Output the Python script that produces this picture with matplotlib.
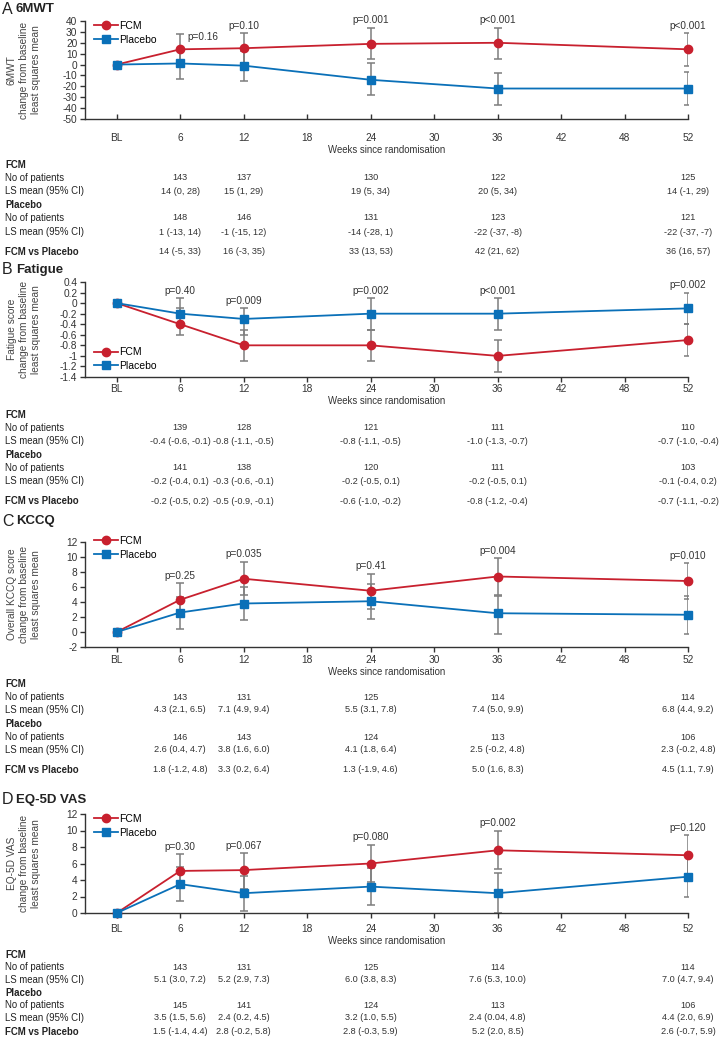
import numpy as np
import matplotlib.pyplot as plt
from matplotlib.transforms import blended_transform_factory
from matplotlib.ticker import FuncFormatter

plt.rcParams['font.family'] = ['Liberation Sans', 'DejaVu Sans']
plt.rcParams['axes.unicode_minus'] = False

# x axis categories and the visits where data exists
weeks = ['BL', '6', '12', '18', '24', '30', '36', '42', '48', '52']
visits = ['6', '12', '24', '36', '52']

# A 6MWT
mwt_fcm_n = [143, 137, 130, 122, 125]
mwt_fcm_mean = [14, 15, 19, 20, 14]
mwt_fcm_lo = [0, 1, 5, 5, -1]
mwt_fcm_hi = [28, 29, 34, 34, 29]
mwt_pla_n = [148, 146, 131, 123, 121]
mwt_pla_mean = [1, -1, -14, -22, -22]
mwt_pla_lo = [-13, -15, -28, -37, -37]
mwt_pla_hi = [14, 12, 1, -8, -7]
mwt_diff_mean = [14, 16, 33, 42, 36]
mwt_diff_lo = [-5, -3, 13, 21, 16]
mwt_diff_hi = [33, 35, 53, 62, 57]
mwt_p = ['p=0.16', 'p=0.10', 'p=0.001', 'p<0.001', 'p<0.001']

# B Fatigue
fat_fcm_n = [139, 128, 121, 111, 110]
fat_fcm_mean = [-0.4, -0.8, -0.8, -1.0, -0.7]
fat_fcm_lo = [-0.6, -1.1, -1.1, -1.3, -1.0]
fat_fcm_hi = [-0.1, -0.5, -0.5, -0.7, -0.4]
fat_pla_n = [141, 138, 120, 111, 103]
fat_pla_mean = [-0.2, -0.3, -0.2, -0.2, -0.1]
fat_pla_lo = [-0.4, -0.6, -0.5, -0.5, -0.4]
fat_pla_hi = [0.1, -0.1, 0.1, 0.1, 0.2]
fat_diff_mean = [-0.2, -0.5, -0.6, -0.8, -0.7]
fat_diff_lo = [-0.5, -0.9, -1.0, -1.2, -1.1]
fat_diff_hi = [0.2, -0.1, -0.2, -0.4, -0.2]
fat_p = ['p=0.40', 'p=0.009', 'p=0.002', 'p<0.001', 'p=0.002']

# C KCCQ
kc_fcm_n = [143, 131, 125, 114, 114]
kc_fcm_mean = [4.3, 7.1, 5.5, 7.4, 6.8]
kc_fcm_lo = [2.1, 4.9, 3.1, 5.0, 4.4]
kc_fcm_hi = [6.5, 9.4, 7.8, 9.9, 9.2]
kc_pla_n = [146, 143, 124, 113, 106]
kc_pla_mean = [2.6, 3.8, 4.1, 2.5, 2.3]
kc_pla_lo = [0.4, 1.6, 1.8, -0.2, -0.2]
kc_pla_hi = [4.7, 6.0, 6.4, 4.8, 4.8]
kc_diff_mean = [1.8, 3.3, 1.3, 5.0, 4.5]
kc_diff_lo = [-1.2, 0.2, -1.9, 1.6, 1.1]
kc_diff_hi = [4.8, 6.4, 4.6, 8.3, 7.9]
kc_p = ['p=0.25', 'p=0.035', 'p=0.41', 'p=0.004', 'p=0.010']

# D EQ-5D VAS
eq_fcm_n = [143, 131, 125, 114, 114]
eq_fcm_mean = [5.1, 5.2, 6.0, 7.6, 7.0]
eq_fcm_lo = [3.0, 2.9, 3.8, 5.3, 4.7]
eq_fcm_hi = [7.2, 7.3, 8.3, 10.0, 9.4]
eq_pla_n = [145, 141, 124, 113, 106]
eq_pla_mean = [3.5, 2.4, 3.2, 2.4, 4.4]
eq_pla_lo = [1.5, 0.2, 1.0, 0.04, 2.0]
eq_pla_hi = [5.6, 4.5, 5.5, 4.8, 6.9]
eq_diff_mean = [1.5, 2.8, 2.8, 5.2, 2.6]
eq_diff_lo = [-1.4, -0.2, -0.3, 2.0, -0.7]
eq_diff_hi = [4.4, 5.8, 5.9, 8.5, 5.9]
eq_p = ['p=0.30', 'p=0.067', 'p=0.080', 'p=0.002', 'p=0.120']

FCM_C = '#c8202e'
PLA_C = '#0a70b8'
BAR_C = '#7d7d7d'
TXT_C = '#333333'

W, H = 724, 1041

def fmt(v, d):
    s = f'{v:.{d}f}'
    if float(s) != v:
        s = repr(v)
    return s

def ci(m, lo, hi, d):
    return f'{fmt(m, d)} ({fmt(lo, d)}, {fmt(hi, d)})'

def tickfmt(v, _):
    if abs(v) < 1e-9:
        return '0'
    return f'{round(v, 2):g}'

panels = [
    dict(letter='A', name='6MWT', ylab='6MWT\nchange from baseline\nleast squares mean',
         fcm=(mwt_fcm_n, mwt_fcm_mean, mwt_fcm_lo, mwt_fcm_hi),
         pla=(mwt_pla_n, mwt_pla_mean, mwt_pla_lo, mwt_pla_hi),
         diff=(mwt_diff_mean, mwt_diff_lo, mwt_diff_hi), p=mwt_p, dec=0,
         yticks=np.arange(-50, 41, 10), top=21, bot=119, title=9, ticky=138, tdir='in',
         rows=[165, 178, 191, 205, 218, 232, 252], leg='top', legoff=6),
    dict(letter='B', name='Fatigue', ylab='Fatigue score\nchange from baseline\nleast squares mean',
         fcm=(fat_fcm_n, fat_fcm_mean, fat_fcm_lo, fat_fcm_hi),
         pla=(fat_pla_n, fat_pla_mean, fat_pla_lo, fat_pla_hi),
         diff=(fat_diff_mean, fat_diff_lo, fat_diff_hi), p=fat_p, dec=1,
         yticks=np.linspace(-1.4, 0.4, 10), top=282, bot=377, title=270, ticky=389, tdir='out',
         rows=[415, 428, 441, 455, 468, 481, 501], leg='bottom', legoff=6),
    dict(letter='C', name='KCCQ', ylab='Overall KCCQ score\nchange from baseline\nleast squares mean',
         fcm=(kc_fcm_n, kc_fcm_mean, kc_fcm_lo, kc_fcm_hi),
         pla=(kc_pla_n, kc_pla_mean, kc_pla_lo, kc_pla_hi),
         diff=(kc_diff_mean, kc_diff_lo, kc_diff_hi), p=kc_p, dec=1,
         yticks=np.arange(-2, 13, 2), top=542, bot=647, title=521, ticky=660, tdir='out',
         rows=[684, 697, 710, 724, 737, 750, 770], leg='top', legoff=0),
    dict(letter='D', name='EQ-5D VAS', ylab='EQ-5D VAS\nchange from baseline\nleast squares mean',
         fcm=(eq_fcm_n, eq_fcm_mean, eq_fcm_lo, eq_fcm_hi),
         pla=(eq_pla_n, eq_pla_mean, eq_pla_lo, eq_pla_hi),
         diff=(eq_diff_mean, eq_diff_lo, eq_diff_hi), p=eq_p, dec=1,
         yticks=np.arange(0, 13, 2), top=814, bot=913, title=800, ticky=929, tdir='out',
         rows=[955, 967, 980, 993, 1005, 1018, 1032], leg='top', legoff=6),
]

fig = plt.figure(figsize=(W / 100, H / 100), dpi=100)
ax_l, ax_r = 85, 688
xpos = [weeks.index(v) for v in visits]
FS = 6.9      # row labels
CELL_FS = 6.6  # table cells

for k, pn in enumerate(panels):
    ax = fig.add_axes([ax_l / W, 1 - pn['bot'] / H, (ax_r - ax_l) / W, (pn['bot'] - pn['top']) / H])
    for key, col, mk, ms, lab in [('fcm', FCM_C, 'o', 6, 'FCM'), ('pla', PLA_C, 's', 5.2, 'Placebo')]:
        n, m, lo, hi = pn[key]
        m = np.array(m, float)
        err = [m - np.array(lo), np.array(hi) - m]
        ax.errorbar(xpos, m, yerr=err, fmt='none', ecolor=BAR_C, elinewidth=1.1,
                    capsize=2.6, capthick=1.1, zorder=2)
        ax.plot([0] + xpos, [0] + list(m), color=col, lw=1.3, marker=mk, ms=ms,
                label=lab, zorder=3, clip_on=False)
    # p-values above the higher CI
    top_ci = np.maximum(pn['fcm'][3], pn['pla'][3])
    for i, (x, yt, ptxt) in enumerate(zip(xpos, top_ci, pn['p'])):
        if k == 0 and i == 0:
            ax.annotate(ptxt, (x, yt), xytext=(5, -2), textcoords='offset points',
                        ha='left', va='center', fontsize=7.2, color=TXT_C)
        else:
            ax.annotate(ptxt, (x, yt), xytext=(0, 1.5), textcoords='offset points',
                        ha='center', va='bottom', fontsize=7.2, color=TXT_C)
    ax.set_xlim(-0.5, 9)
    ax.set_ylim(pn['yticks'][0], pn['yticks'][-1])
    ax.set_yticks(pn['yticks'])
    ax.yaxis.set_major_formatter(FuncFormatter(tickfmt))
    ax.set_xticks(range(len(weeks)))
    ax.set_xticklabels(weeks)
    ax.spines['top'].set_visible(False)
    ax.spines['right'].set_visible(False)
    for s in ['left', 'bottom']:
        ax.spines[s].set_color('#333333')
        ax.spines[s].set_linewidth(1)
    ax.tick_params(axis='both', labelsize=7.3, colors='#333333', length=3.5, width=1)
    ax.tick_params(axis='y', pad=2)
    # put the x tick labels where the reference has them
    off = pn['ticky'] - pn['bot']
    tick_px = 3.5 * 1.39 if pn['tdir'] == 'out' else 0
    ax.tick_params(axis='x', direction=pn['tdir'], pad=max((off - tick_px - 4.5) / 1.39, 0))

    hgt = pn['bot'] - pn['top']
    if pn['leg'] == 'top':
        ax.legend(loc='upper left', bbox_to_anchor=(0.015, 1 + (6 - pn['legoff']) / hgt),
                  frameon=False, fontsize=7.5, borderpad=0, borderaxespad=0,
                  handlelength=2.3, handletextpad=0.15, labelspacing=0.35)
    else:
        ax.legend(loc='lower left', bbox_to_anchor=(0.015, pn['legoff'] / hgt),
                  frameon=False, fontsize=7.5, borderpad=0, borderaxespad=0,
                  handlelength=2.3, handletextpad=0.15, labelspacing=0.35)

    # panel title
    fig.text(2 / W, 1 - pn['title'] / H, pn['letter'], fontsize=11.5, va='center', color='#222222')
    fig.text(16 / W, 1 - pn['title'] / H, pn['name'], fontsize=9.5, weight='bold', va='center', color='#222222')
    # y label
    fig.text(24 / W, 1 - (pn['top'] + pn['bot']) / 2 / H, pn['ylab'], rotation=90, ha='center',
             va='center', multialignment='center', fontsize=7.3, color='#444444', linespacing=1.3)
    # x label
    fig.text((ax_l + ax_r) / 2 / W, 1 - (pn['ticky'] + 12) / H, 'Weeks since randomisation',
             ha='center', va='center', fontsize=FS, color=TXT_C)

    # table below the chart
    tr = blended_transform_factory(ax.transData, fig.transFigure)
    rows = pn['rows']
    d = pn['dec']
    labels = [('FCM', True), ('No of patients', False), ('LS mean (95% CI)', False),
              ('Placebo', True), ('No of patients', False), ('LS mean (95% CI)', False),
              ('FCM vs Placebo', True)]
    for (txt, bold), y in zip(labels, rows):
        fig.text(5 / W, 1 - y / H, txt, fontsize=FS, va='center', color='#222222',
                 weight='bold' if bold else 'normal')
    fn, fm, flo, fhi = pn['fcm']
    pn_, pm, plo, phi = pn['pla']
    dm, dlo, dhi = pn['diff']
    for i, x in enumerate(xpos):
        cells = [(rows[1], str(fn[i])), (rows[2], ci(fm[i], flo[i], fhi[i], d)),
                 (rows[4], str(pn_[i])), (rows[5], ci(pm[i], plo[i], phi[i], d)),
                 (rows[6], ci(dm[i], dlo[i], dhi[i], d))]
        for y, txt in cells:
            fig.text(x, 1 - y / H, txt, transform=tr, ha='center', va='center',
                     fontsize=CELL_FS, color=TXT_C)

fig.savefig('out.png', dpi=100)
